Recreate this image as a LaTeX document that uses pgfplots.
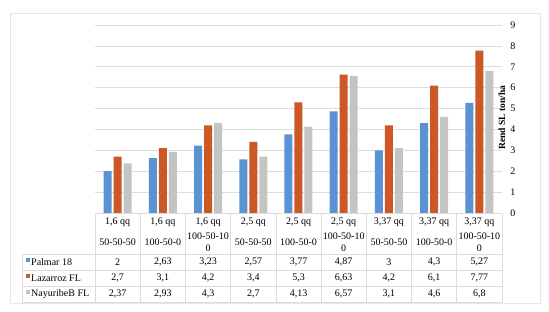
\documentclass[border=0pt]{standalone}
\usepackage{fontspec}
\setmainfont{Liberation Serif}
\usepackage{pgfplots}
\pgfplotsset{compat=1.18}
\definecolor{cblue}{RGB}{91,146,212}
\definecolor{corange}{RGB}{204,88,38}
\definecolor{cgray}{RGB}{196,196,196}
\definecolor{cline}{RGB}{220,220,220}
\begin{document}
\begin{tikzpicture}
\useasboundingbox (0pt,0pt) rectangle (549pt,311pt);
\draw[cline!70, line width=0.6pt] (10pt,8pt) rectangle (540pt,298pt);
\begin{axis}[at={(95pt,98pt)}, anchor=south west, scale only axis,
  width=407pt, height=188pt,
  xmin=-0.5, xmax=8.5, ymin=0, ymax=9, ytick={0,...,9}, xtick=\empty,
  yticklabel pos=right, axis line style={draw=none}, major tick length=0pt,
  ymajorgrids, grid style={cline, line width=0.6pt},
  ybar=2pt, bar width=8pt,
  yticklabel style={anchor=center, xshift=11pt, font=\fontsize{10}{12}\selectfont},
  /pgf/number format/assume math mode=true,
  ylabel={Rend SL ton/ha},
  ylabel style={at={(axis description cs:1,0.37)}, anchor=center, xshift=26pt, font=\fontsize{9.5}{12}\selectfont\bfseries},
]
\addplot[fill=cblue, draw=none] coordinates {(0,2) (1,2.63) (2,3.23) (3,2.57) (4,3.77) (5,4.87) (6,3) (7,4.3) (8,5.27)};
\addplot[fill=corange, draw=none] coordinates {(0,2.7) (1,3.1) (2,4.2) (3,3.4) (4,5.3) (5,6.63) (6,4.2) (7,6.1) (8,7.77)};
\addplot[fill=cgray, draw=none] coordinates {(0,2.37) (1,2.93) (2,4.3) (3,2.7) (4,4.13) (5,6.57) (6,3.1) (7,4.6) (8,6.8)};
\end{axis}
% table lines
\begin{scope}[cline, line width=0.6pt]
\draw (95pt,98pt) -- (502pt,98pt);
\draw (22pt,57pt) -- (502pt,57pt);
\draw (22pt,41pt) -- (502pt,41pt);
\draw (22pt,25pt) -- (502pt,25pt);
\draw (22pt,9pt) -- (502pt,9pt);
\draw (22pt,9pt) -- (22pt,57pt);
\foreach \k in {0,...,9} {\draw ({95pt+45.222pt*\k},9pt) -- ({95pt+45.222pt*\k},98pt);}
\end{scope}
\begin{scope}[every node/.style={font=\fontsize{10}{12}\selectfont, inner sep=0pt}]
\foreach \i/\a/\b/\p/\l/\n in {
 0/{1,6 qq}/{50-50-50}/{2}/{2,7}/{2,37},
 1/{1,6 qq}/{100-50-0}/{2,63}/{3,1}/{2,93},
 2/{1,6 qq}/{100-50-10\\0}/{3,23}/{4,2}/{4,3},
 3/{2,5 qq}/{50-50-50}/{2,57}/{3,4}/{2,7},
 4/{2,5 qq}/{100-50-0}/{3,77}/{5,3}/{4,13},
 5/{2,5 qq}/{100-50-10\\0}/{4,87}/{6,63}/{6,57},
 6/{3,37 qq}/{50-50-50}/{3}/{4,2}/{3,1},
 7/{3,37 qq}/{100-50-0}/{4,3}/{6,1}/{4,6},
 8/{3,37 qq}/{100-50-10\\0}/{5,27}/{7,77}/{6,8}} {
  \node at ({95pt+45.222pt*(\i+0.5)},89pt) {\a};
  \node[align=center] at ({95pt+45.222pt*(\i+0.5)},69pt) {\b};
  \node at ({95pt+45.222pt*(\i+0.5)},49pt) {\p};
  \node at ({95pt+45.222pt*(\i+0.5)},33pt) {\l};
  \node at ({95pt+45.222pt*(\i+0.5)},17pt) {\n};
}
\fill[cblue] (25.5pt,49pt) rectangle (30pt,53.5pt);
\fill[corange] (25.5pt,33pt) rectangle (30pt,37.5pt);
\fill[cgray] (25.5pt,17pt) rectangle (30pt,21.5pt);
\node[anchor=west] at (31pt,49pt) {Palmar 18};
\node[anchor=west] at (31pt,33pt) {Lazarroz FL};
\node[anchor=west] at (31pt,17pt) {NayuribeB FL};
\end{scope}
\end{tikzpicture}
\end{document}
